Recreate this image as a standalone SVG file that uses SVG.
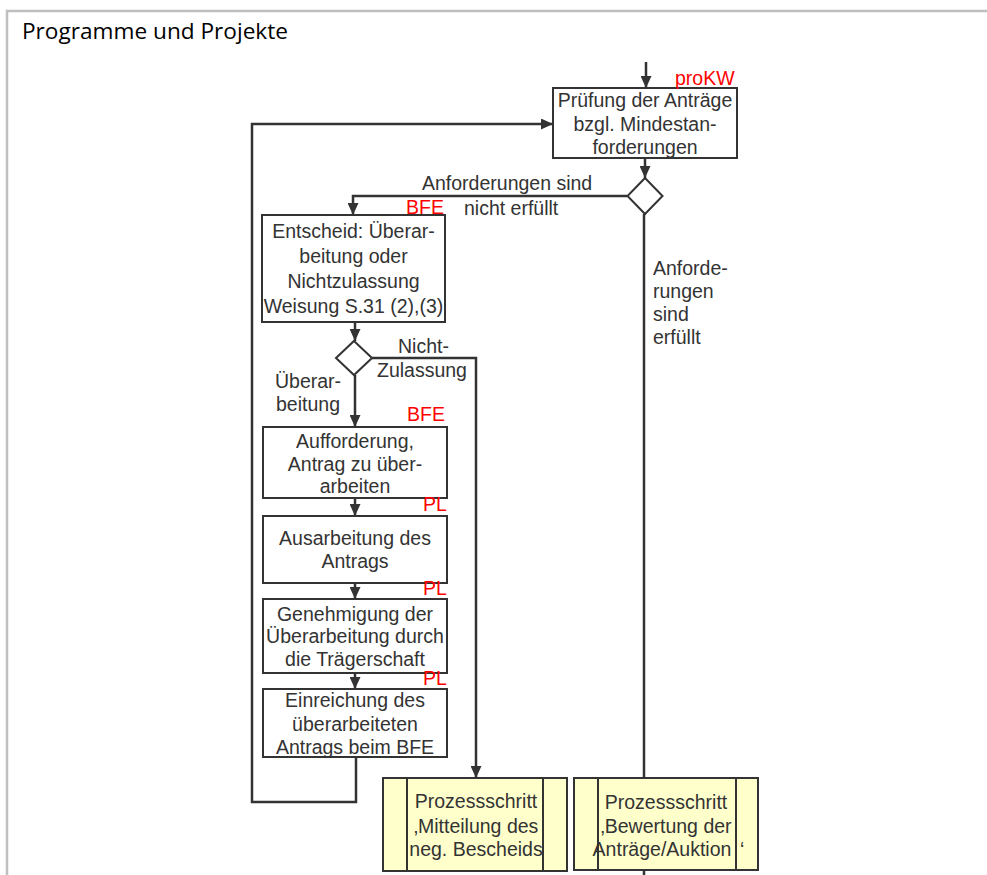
<svg xmlns="http://www.w3.org/2000/svg" width="987" height="875" viewBox="0 0 987 875">
  <style>
    .frame { fill: none; stroke: #bfbfbf; stroke-width: 2.5; }
    .title { font-family: "Open Sans", "Liberation Sans", sans-serif; font-size: 21.5px; fill: #000; }
    .box { fill: #fff; stroke: #333; stroke-width: 2; }
    .proc { fill: #ffffcc; stroke: #333; stroke-width: 2; }
    .dia { fill: #fff; stroke: #333; stroke-width: 2; }
    .t { font-family: "Liberation Sans", Arial, sans-serif; font-size: 19.5px; fill: #333; }
    .c { text-anchor: middle; }
    .role { font-family: "Liberation Sans", Arial, sans-serif; font-size: 19.5px; fill: #ff0000; }
    .edge { fill: none; stroke: #333; stroke-width: 2.5; }
  </style>
  <defs>
    <marker id="arrow" markerUnits="userSpaceOnUse" markerWidth="12" markerHeight="11" refX="12" refY="5.5" orient="auto">
      <path d="M0,0 L12,5.5 L0,11 z" fill="#333"/>
    </marker>
  </defs>

  <rect width="987" height="875" fill="#fff"/>

  <!-- panel frame and heading -->
  <path class="frame" d="M7,876 L7,11 L988,11"/>
  <text class="title" x="22" y="39" textLength="266" lengthAdjust="spacingAndGlyphs">Programme und Projekte</text>

  <!-- connectors -->
  <g id="connectors">
    <path class="edge" d="M646,62 L646,88" marker-end="url(#arrow)"/>
    <path class="edge" d="M645,158 L645,178" marker-end="url(#arrow)"/>
    <path class="edge" d="M627,196 L353,196 L353,215" marker-end="url(#arrow)"/>
    <path class="edge" d="M644,214 L644,778"/>
    <path class="edge" d="M644,870 L644,876"/>
    <path class="edge" d="M355,322 L355,341" marker-end="url(#arrow)"/>
    <path class="edge" d="M372,358 L476,358 L476,778" marker-end="url(#arrow)"/>
    <path class="edge" d="M355,375 L355,427" marker-end="url(#arrow)"/>
    <path class="edge" d="M355,498 L355,516" marker-end="url(#arrow)"/>
    <path class="edge" d="M355,583 L355,599" marker-end="url(#arrow)"/>
    <path class="edge" d="M355,673 L355,689" marker-end="url(#arrow)"/>
    <path class="edge" d="M356,757 L356,802 L252,802 L252,124 L553,124" marker-end="url(#arrow)"/>

    <text class="t" x="422" y="190">Anforderungen sind</text>
    <text class="t" x="464" y="215">nicht erfüllt</text>
    <text class="t" x="653" y="275">Anforde-</text>
    <text class="t" x="653" y="298">rungen</text>
    <text class="t" x="653" y="321">sind</text>
    <text class="t" x="653" y="344">erfüllt</text>
    <text class="t" x="398" y="353">Nicht-</text>
    <text class="t" x="377" y="377">Zulassung</text>
    <text class="t" x="275" y="388">Überar-</text>
    <text class="t" x="276" y="411">beitung</text>
  </g>

  <!-- check of minimum requirements -->
  <g id="pruefung">
    <rect class="box" x="553" y="88" width="184" height="70"/>
    <text class="role" x="675" y="85">proKW</text>
    <text class="t c" x="645" y="107">Prüfung der Anträge</text>
    <text class="t c" x="645" y="131">bzgl. Mindestan-</text>
    <text class="t c" x="645" y="154">forderungen</text>
  </g>

  <g id="entscheid-anforderungen">
    <path class="dia" d="M645,178 L662.5,196 L645,214 L627.5,196 z"/>
  </g>

  <!-- decision: rework or rejection -->
  <g id="entscheid">
    <rect class="box" x="262" y="215" width="183" height="107"/>
    <text class="role" x="406" y="214">BFE</text>
    <text class="t c" x="353.5" y="238">Entscheid: Überar-</text>
    <text class="t c" x="353.5" y="263">beitung oder</text>
    <text class="t c" x="353.5" y="288">Nichtzulassung</text>
    <text class="t c" x="353.5" y="313">Weisung S.31 (2),(3)</text>
  </g>

  <g id="entscheid-zulassung">
    <path class="dia" d="M354,341 L372,358 L354,375 L336,358 z"/>
  </g>

  <g id="aufforderung">
    <rect class="box" x="263" y="427" width="184" height="71"/>
    <text class="role" x="407" y="421">BFE</text>
    <text class="t c" x="355" y="448">Aufforderung,</text>
    <text class="t c" x="355" y="471">Antrag zu über-</text>
    <text class="t c" x="355" y="493">arbeiten</text>
  </g>

  <g id="ausarbeitung">
    <rect class="box" x="263" y="516" width="184" height="67"/>
    <text class="role" x="423" y="511">PL</text>
    <text class="t c" x="355" y="545">Ausarbeitung des</text>
    <text class="t c" x="355" y="568">Antrags</text>
  </g>

  <g id="genehmigung">
    <rect class="box" x="263" y="599" width="184" height="74"/>
    <text class="role" x="423" y="595">PL</text>
    <text class="t c" x="355" y="621">Genehmigung der</text>
    <text class="t c" x="355" y="643">Überarbeitung durch</text>
    <text class="t c" x="355" y="666">die Trägerschaft</text>
  </g>

  <g id="einreichung">
    <rect class="box" x="263" y="689" width="184" height="68"/>
    <text class="role" x="423" y="685">PL</text>
    <text class="t c" x="355" y="707">Einreichung des</text>
    <text class="t c" x="355" y="731">überarbeiteten</text>
    <text class="t c" x="355" y="754">Antrags beim BFE</text>
  </g>

  <!-- linked process steps -->
  <g id="prozess-mitteilung">
    <rect class="proc" x="383" y="778" width="184" height="93"/>
    <line class="proc" x1="407" y1="778" x2="407" y2="871"/>
    <line class="proc" x1="543" y1="778" x2="543" y2="871"/>
    <text class="t c" x="476" y="808">Prozessschritt</text>
    <text class="t c" x="476" y="833">‚Mitteilung des</text>
    <text class="t c" x="476" y="856">neg. Bescheids</text>
  </g>

  <g id="prozess-bewertung">
    <rect class="proc" x="574" y="778" width="184" height="92"/>
    <line class="proc" x1="598" y1="778" x2="598" y2="870"/>
    <line class="proc" x1="736" y1="778" x2="736" y2="870"/>
    <text class="t c" x="666" y="809">Prozessschritt</text>
    <text class="t c" x="666" y="833">‚Bewertung der</text>
    <text class="t c" x="662" y="856">Anträge/Auktion</text>
    <text class="t" x="740" y="856">‘</text>
  </g>
</svg>
